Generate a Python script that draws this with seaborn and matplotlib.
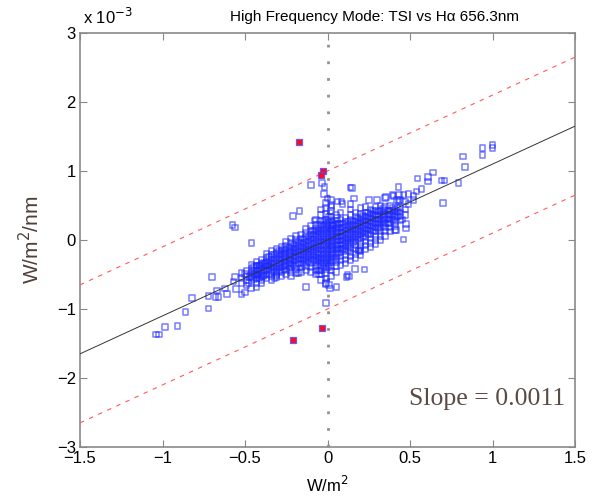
import numpy as np
import pandas as pd
import matplotlib
matplotlib.use("Agg")
import matplotlib.pyplot as plt
import seaborn as sns

# ---------------- data (y in units of 1e-3 W/m^2/nm) ----------------
slope = 1.1          # 0.0011 W/m^2/nm per W/m^2, i.e. 1.1 in 1e-3 units
band_offset = 1.0    # red dashed band, +/- 1e-3
x_limits = [-1.5, 1.5]
y_limits = [-3, 3]
x_ticks = [-1.5, -1, -0.5, 0, 0.5, 1, 1.5]
y_ticks = [-3, -2, -1, 0, 1, 2, 3]

# sparse points
sparse_x = [-0.575, -0.56, -0.46, -0.70, -0.82, -0.86, -0.72, -0.985, -0.91, -1.04, -1.02,
            -0.72, -0.68, -0.66, -0.67, -0.61, -0.62, -0.57, -0.56, -0.555, -0.52, -0.50,
            -0.50, -0.48, -0.465, -0.43, -0.47, -0.44, -0.425, -0.40, -0.43, -0.41, -0.38,
            -0.36, -0.39,
            -0.10, -0.035, -0.017, 0.14, 0.15, -0.02, -0.17, -0.21, -0.08, 0.0, 0.02, 0.06,
            0.09, 0.14, 0.16, 0.25, 0.30, 0.355, 0.40, 0.43, 0.41, 0.19, 0.225, 0.165, 0.13,
            0.115, -0.13, -0.01, 0.015, 0.055, -0.175, -0.32, -0.01,
            0.94, 1.0, 1.0, 0.94, 0.82, 0.835, 0.795, 0.69, 0.71, 0.64, 0.61, 0.61, 0.545,
            0.57, 0.70, 0.35, 0.395, 0.435, 0.46, 0.49, 0.52, 0.54, 0.43, 0.47, 0.49, 0.52,
            0.415, 0.475, 0.46, 0.475, 0.45, 0.42, 0.44, 0.023, 0.084, 0.033, 0.058, 0.12,
            0.01, -0.013, -0.05, -0.053, -0.31, 0.124, 0.19]
sparse_y = [0.22, 0.18, -0.04, -0.54, -0.84, -1.04, -0.99, -1.26, -1.25, -1.37, -1.37,
            -0.81, -0.83, -0.83, -0.73, -0.78, -0.70, -0.60, -0.54, -0.71, -0.79, -0.76,
            -0.49, -0.62, -0.70, -0.69, -0.54, -0.49, -0.51, -0.62, -0.37, -0.37, -0.35,
            -0.37, -0.52,
            0.80, 0.83, 0.77, 0.76, 0.75, 0.67, 0.42, 0.35, 0.28, 0.60, 0.58, 0.56,
            0.52, 0.52, 0.60, 0.58, 0.58, 0.62, 0.64, 0.77, 0.145, -0.15, -0.43, -0.42, -0.53,
            -0.54, -0.68, -0.91, -0.70, -0.68, -0.48, -0.55, -0.62,
            1.33, 1.38, 1.33, 1.23, 1.21, 1.06, 0.83, 0.86, 0.86, 0.98, 0.91, 0.85, 0.89,
            0.74, 0.54, 0.61, 0.65, 0.65, 0.65, 0.67, 0.64, 0.70, 0.56, 0.56, 0.52, 0.58,
            0.145, 0.165, 0.01, 0.23, 0.30, 0.58, 0.58, 0.51, 0.56, 0.22, 0.32, -0.51,
            -0.65, -0.64, -0.49, -0.44, -0.51, -0.155, -0.155]

# dense core, read column by column (outer envelope)
core_cols = [-0.52, -0.49, -0.46, -0.43, -0.40, -0.37, -0.34, -0.31, -0.28, -0.25, -0.22,
             -0.19, -0.16, -0.13, -0.10, -0.07, -0.04, -0.01, 0.02, 0.05, 0.08, 0.11, 0.14,
             0.17, 0.20, 0.23, 0.26, 0.29, 0.32, 0.35, 0.38, 0.41, 0.44, 0.47]
core_vals = [
    [-0.62, -0.55, -0.48],
    [-0.66, -0.58, -0.52, -0.45],
    [-0.60, -0.54, -0.48, -0.42, -0.36],
    [-0.62, -0.56, -0.50, -0.44, -0.38, -0.32],
    [-0.58, -0.52, -0.46, -0.40, -0.34, -0.28],
    [-0.56, -0.50, -0.44, -0.38, -0.32, -0.26, -0.20],
    [-0.58, -0.52, -0.46, -0.40, -0.34, -0.28, -0.22, -0.16],
    [-0.54, -0.48, -0.42, -0.36, -0.30, -0.24, -0.18, -0.12],
    [-0.52, -0.46, -0.40, -0.34, -0.28, -0.22, -0.16, -0.10],
    [-0.50, -0.44, -0.38, -0.32, -0.26, -0.20, -0.14, -0.08, -0.02],
    [-0.52, -0.46, -0.40, -0.34, -0.28, -0.22, -0.16, -0.10, -0.04, 0.02],
    [-0.48, -0.42, -0.36, -0.30, -0.24, -0.18, -0.12, -0.06, 0.00, 0.06],
    [-0.46, -0.40, -0.34, -0.28, -0.22, -0.16, -0.10, -0.04, 0.02, 0.08],
    [-0.44, -0.38, -0.32, -0.26, -0.20, -0.14, -0.08, -0.02, 0.04, 0.10, 0.16],
    [-0.46, -0.40, -0.34, -0.28, -0.22, -0.16, -0.10, -0.04, 0.02, 0.08, 0.14, 0.20],
    [-0.50, -0.44, -0.38, -0.32, -0.26, -0.20, -0.14, -0.08, -0.02, 0.04, 0.10, 0.16, 0.22, 0.30],
    [-0.58, -0.50, -0.44, -0.38, -0.32, -0.26, -0.20, -0.14, -0.08, -0.02, 0.04, 0.10, 0.16,
     0.22, 0.28, 0.36, 0.44],
    [-0.56, -0.48, -0.42, -0.36, -0.30, -0.24, -0.18, -0.12, -0.06, 0.00, 0.06, 0.12, 0.18,
     0.24, 0.30, 0.38, 0.46, 0.54],
    [-0.52, -0.44, -0.38, -0.32, -0.26, -0.20, -0.14, -0.08, -0.02, 0.04, 0.10, 0.16, 0.22,
     0.28, 0.34, 0.42, 0.48],
    [-0.46, -0.38, -0.32, -0.26, -0.20, -0.14, -0.08, -0.02, 0.04, 0.10, 0.16, 0.22, 0.28, 0.36],
    [-0.36, -0.30, -0.24, -0.18, -0.12, -0.06, 0.00, 0.06, 0.12, 0.18, 0.24, 0.30, 0.40],
    [-0.34, -0.28, -0.22, -0.16, -0.10, -0.04, 0.02, 0.08, 0.14, 0.20, 0.26, 0.32],
    [-0.30, -0.24, -0.18, -0.12, -0.06, 0.00, 0.06, 0.12, 0.18, 0.24, 0.30, 0.36, 0.44],
    [-0.26, -0.20, -0.14, -0.08, -0.02, 0.04, 0.10, 0.16, 0.22, 0.28, 0.34, 0.40],
    [-0.22, -0.16, -0.10, -0.04, 0.02, 0.08, 0.14, 0.20, 0.26, 0.32, 0.38, 0.46],
    [-0.14, -0.08, -0.02, 0.04, 0.10, 0.16, 0.22, 0.28, 0.34, 0.40, 0.48],
    [-0.10, -0.04, 0.02, 0.08, 0.14, 0.20, 0.26, 0.32, 0.38, 0.44],
    [-0.06, 0.00, 0.06, 0.12, 0.18, 0.24, 0.30, 0.36, 0.42, 0.48],
    [0.00, 0.06, 0.12, 0.18, 0.24, 0.30, 0.36, 0.42, 0.50],
    [0.06, 0.12, 0.18, 0.24, 0.30, 0.36, 0.42, 0.48],
    [0.12, 0.18, 0.24, 0.30, 0.36, 0.42, 0.50],
    [0.20, 0.26, 0.32, 0.38, 0.44],
    [0.28, 0.34, 0.40, 0.46],
    [0.36, 0.44],
]

# densest inner part of the core, read column by column
inner_cols = [-0.445, -0.415, -0.385, -0.355, -0.325, -0.295, -0.265, -0.235, -0.205,
              -0.175, -0.145, -0.115, -0.085, -0.055, -0.025, 0.005, 0.035, 0.065, 0.095,
              0.125, 0.155, 0.185, 0.215, 0.245, 0.275, 0.305, 0.335, 0.365, 0.395, 0.425]
inner_vals = [
    [-0.57, -0.51, -0.45, -0.39],
    [-0.55, -0.49, -0.43, -0.37],
    [-0.51, -0.45, -0.39, -0.33],
    [-0.49, -0.43, -0.37, -0.31, -0.25],
    [-0.45, -0.39, -0.33, -0.27, -0.21],
    [-0.45, -0.39, -0.33, -0.27, -0.21, -0.15],
    [-0.43, -0.37, -0.31, -0.25, -0.19, -0.13],
    [-0.41, -0.35, -0.29, -0.23, -0.17, -0.11],
    [-0.37, -0.31, -0.25, -0.19, -0.13, -0.07],
    [-0.33, -0.27, -0.21, -0.15, -0.09, -0.03],
    [-0.35, -0.29, -0.23, -0.17, -0.11, -0.05, 0.01],
    [-0.31, -0.25, -0.19, -0.13, -0.07, -0.01, 0.05],
    [-0.29, -0.23, -0.17, -0.11, -0.05, 0.01, 0.07, 0.13],
    [-0.35, -0.29, -0.23, -0.17, -0.11, -0.05, 0.01, 0.07, 0.13, 0.19],
    [-0.39, -0.33, -0.27, -0.21, -0.15, -0.09, -0.03, 0.03, 0.09, 0.15, 0.21, 0.27],
    [-0.39, -0.33, -0.27, -0.21, -0.15, -0.09, -0.03, 0.03, 0.09, 0.15, 0.21, 0.27, 0.33],
    [-0.29, -0.23, -0.17, -0.11, -0.05, 0.01, 0.07, 0.13, 0.19, 0.25],
    [-0.19, -0.13, -0.07, -0.01, 0.05, 0.11, 0.17, 0.23],
    [-0.13, -0.07, -0.01, 0.05, 0.11, 0.17, 0.23],
    [-0.09, -0.03, 0.03, 0.09, 0.15, 0.21, 0.27],
    [-0.03, 0.03, 0.09, 0.15, 0.21, 0.27],
    [0.01, 0.07, 0.13, 0.19, 0.25, 0.31],
    [0.05, 0.11, 0.17, 0.23, 0.29, 0.35],
    [0.09, 0.15, 0.21, 0.27, 0.33, 0.39],
    [0.13, 0.19, 0.25, 0.31, 0.37, 0.43],
    [0.17, 0.23, 0.29, 0.35, 0.41],
    [0.21, 0.27, 0.33, 0.39, 0.45],
    [0.25, 0.31, 0.37, 0.43],
    [0.29, 0.35, 0.41, 0.47],
    [0.35, 0.41, 0.47],
]

# flagged (red) points
flag_x = [-0.175, -0.03, -0.04, -0.033, -0.21]
flag_y = [1.425, 1.0, 0.94, -1.27, -1.45]

title_text = "High Frequency Mode: TSI vs H\u03b1 656.3nm"
slope_text = "Slope = 0.0011"

# ---------------- build tables ----------------
core_x = [cx for cx, vals in zip(core_cols, core_vals) for _ in vals]
core_y = [v for vals in core_vals for v in vals]
inner_x = [cx for cx, vals in zip(inner_cols, inner_vals) for _ in vals]
inner_y = [v for vals in inner_vals for v in vals]
df = pd.DataFrame({"x": sparse_x + core_x + inner_x, "y": sparse_y + core_y + inner_y})
df_flag = pd.DataFrame({"x": flag_x, "y": flag_y})

# ---------------- plot ----------------
sns.set_theme(style="white")
plt.rcParams["font.family"] = ["Liberation Sans", "DejaVu Sans"]

fig = plt.figure(figsize=(5.98, 5.00), dpi=100)
ax = fig.add_axes([80 / 598, 1 - 447 / 500, (575 - 80) / 598, (447 - 33) / 500])

# lines
xl = np.array(x_limits)
ax.plot([0, 0], y_limits, linestyle=(0, (1, 5)), color="#9a8f88", linewidth=2.0, zorder=1)
ax.plot(xl, slope * xl, color="#333333", linewidth=0.7, zorder=3)
ax.plot(xl, slope * xl + band_offset, color="#ff5a5a", linewidth=0.8,
        linestyle=(0, (4, 5)), zorder=3)
ax.plot(xl, slope * xl - band_offset, color="#ff5a5a", linewidth=0.8,
        linestyle=(0, (4, 5)), zorder=3)

sns.scatterplot(data=df, x="x", y="y", ax=ax, marker="s", s=16,
                facecolor="none", edgecolor=(0.1, 0.15, 1.0, 0.6), linewidth=1.1,
                zorder=2)
sns.scatterplot(data=df_flag, x="x", y="y", ax=ax, marker="s", s=22,
                color="#ff0a1e", edgecolor=(0.3, 0.3, 1.0, 0.8), linewidth=0.9,
                zorder=4)

ax.set_xlim(x_limits)
ax.set_ylim(y_limits)
ax.set_xticks(x_ticks)
ax.set_yticks(y_ticks)
ax.set_xticklabels(["\u22121.5", "\u22121", "\u22120.5", "0", "0.5", "1", "1.5"])
ax.set_yticklabels(["\u22123", "\u22122", "\u22121", "0", "1", "2", "3"])
ax.tick_params(direction="in", length=5, width=0.8, color="#888888",
               labelsize=12, labelcolor="black", top=True, right=True,
               bottom=True, left=True, pad=3)
for sp in ax.spines.values():
    sp.set_color("#8a8a8a")
    sp.set_linewidth(1.2)

ax.set_xlabel("W/m$^2$", fontsize=12, color="black", labelpad=6)
ax.set_ylabel("W/m$^2$/nm", fontsize=15, color="#4f3f38", labelpad=10)

fig.text(375 / 598, 1 - 17 / 500, title_text, ha="center", va="center",
         fontsize=11, color="black")
fig.text(83 / 598, 1 - 17 / 500, "x 10$^{-3}$", ha="left", va="center",
         fontsize=12, color="black")
ax.text(0.98, 0.115, slope_text, transform=ax.transAxes, ha="right", va="center",
        fontsize=18.5, color="#5a4a44", family=["Liberation Serif", "DejaVu Serif"])

fig.savefig("out.png", dpi=100)
